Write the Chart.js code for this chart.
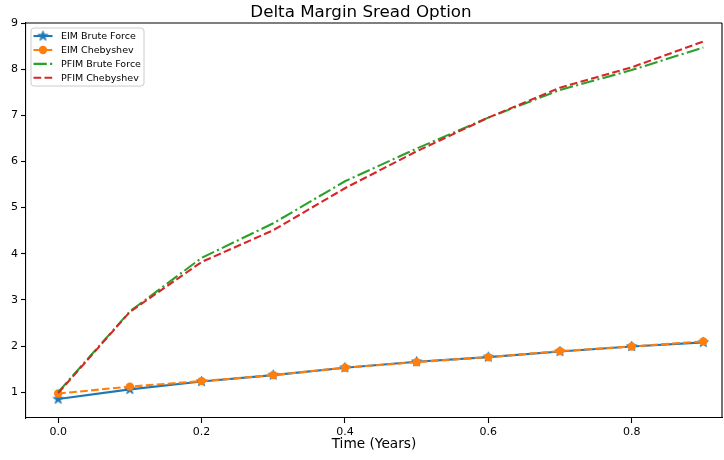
<!DOCTYPE html>
<html>
<head>
<meta charset="utf-8">
<script src="https://cdn.jsdelivr.net/npm/chart.js@4/dist/chart.umd.min.js"></script>
<style>
  html, body { margin: 0; padding: 0; background: #fff; }
  #wrap { width: 724px; height: 460px; position: relative; }
</style>
</head>
<body>
<div id="wrap"><canvas id="c" width="724" height="460"></canvas></div>
<script>
// ---- data ----
const timeYears = [0.0, 0.1, 0.2, 0.3, 0.4, 0.5, 0.6, 0.7, 0.8, 0.9];
const eimBruteForce = [0.85, 1.06, 1.23, 1.37, 1.53, 1.66, 1.76, 1.88, 1.99, 2.08];
const eimChebyshev  = [0.97, 1.12, 1.24, 1.37, 1.53, 1.65, 1.76, 1.89, 1.99, 2.10];
const pfimBruteForce = [1.00, 2.75, 3.91, 4.66, 5.57, 6.28, 6.95, 7.55, 7.98, 8.47];
const pfimChebyshev  = [0.98, 2.74, 3.82, 4.51, 5.42, 6.22, 6.95, 7.60, 8.04, 8.60];
const seriesLabels = ["EIM Brute Force", "EIM Chebyshev", "PFIM Brute Force", "PFIM Chebyshev"];
const xTickValues = [0.0, 0.2, 0.4, 0.6, 0.8];
const yTickValues = [1, 2, 3, 4, 5, 6, 7, 8, 9];
const chartTitle = "Delta Margin Sread Option";
const xAxisTitle = "Time (Years)";

const FONT = "'DejaVu Sans', sans-serif";
const C_BLUE = '#1f77b4', C_ORANGE = '#ff7f0e', C_GREEN = '#2ca02c', C_RED = '#d62728';

function makeStar(color, R) {
  const s = Math.ceil(R * 2 + 2);
  const cv = document.createElement('canvas');
  cv.width = s; cv.height = s;
  const g = cv.getContext('2d');
  const cx = s / 2, cy = s / 2, r = R * 0.381966;
  g.beginPath();
  for (let i = 0; i < 10; i++) {
    const rad = (i % 2 === 0) ? R : r;
    const a = -Math.PI / 2 + i * Math.PI / 5;
    const x = cx + rad * Math.cos(a), y = cy + rad * Math.sin(a);
    if (i === 0) g.moveTo(x, y); else g.lineTo(x, y);
  }
  g.closePath();
  g.fillStyle = color; g.fill();
  g.lineWidth = 1; g.strokeStyle = color; g.stroke();
  return cv;
}
const starImg = makeStar(C_BLUE, 5.2);

function toXY(ys) { return timeYears.map((x, i) => ({ x: x, y: ys[i] })); }

const LW = 2.1;
const datasets = [
  { label: seriesLabels[0], data: toXY(eimBruteForce), borderColor: C_BLUE, backgroundColor: C_BLUE,
    borderWidth: LW, pointStyle: starImg, pointRadius: 5, order: 4, _dash: [] },
  { label: seriesLabels[1], data: toXY(eimChebyshev), borderColor: C_ORANGE, backgroundColor: C_ORANGE,
    borderWidth: LW, borderDash: [7.7, 3.3], pointStyle: 'circle', pointRadius: 4.2, pointBorderWidth: 0, order: 3, _dash: [7.7, 3.3] },
  { label: seriesLabels[2], data: toXY(pfimBruteForce), borderColor: C_GREEN, backgroundColor: C_GREEN,
    borderWidth: LW, borderDash: [13.3, 3.3, 2.1, 3.3], pointRadius: 0, order: 2, _dash: [13.3, 3.3, 2.1, 3.3] },
  { label: seriesLabels[3], data: toXY(pfimChebyshev), borderColor: C_RED, backgroundColor: C_RED,
    borderWidth: LW, borderDash: [7.7, 3.3], pointRadius: 0, order: 1, _dash: [7.7, 3.3] }
];

const framePlugin = {
  id: 'frame',
  afterDraw(chart) {
    const ctx = chart.ctx, a = chart.chartArea;
    ctx.save();
    ctx.strokeStyle = '#000';
    ctx.lineWidth = 1.1;
    ctx.beginPath();
    ctx.moveTo(a.left, a.top); ctx.lineTo(a.right, a.top);
    ctx.moveTo(a.right, a.top); ctx.lineTo(a.right, a.bottom);
    ctx.stroke();
    ctx.restore();

    // legend inside the axes, upper left
    const x0 = a.left + 5, y0 = a.top + 5, w = 113, rowH = 13.9, h = 58;
    ctx.save();
    ctx.beginPath();
    const rr = 3;
    ctx.moveTo(x0 + rr, y0);
    ctx.arcTo(x0 + w, y0, x0 + w, y0 + h, rr);
    ctx.arcTo(x0 + w, y0 + h, x0, y0 + h, rr);
    ctx.arcTo(x0, y0 + h, x0, y0, rr);
    ctx.arcTo(x0, y0, x0 + w, y0, rr);
    ctx.closePath();
    ctx.fillStyle = 'rgba(255,255,255,0.8)';
    ctx.fill();
    ctx.strokeStyle = '#cccccc';
    ctx.lineWidth = 1;
    ctx.stroke();
    chart.data.datasets.forEach((ds, i) => {
      const cy = y0 + 8 + i * rowH;
      const hx0 = x0 + 2.5, hx1 = x0 + 21.5;
      ctx.save();
      ctx.strokeStyle = ds.borderColor;
      ctx.lineWidth = LW;
      ctx.setLineDash(ds._dash);
      ctx.beginPath(); ctx.moveTo(hx0, cy); ctx.lineTo(hx1, cy); ctx.stroke();
      ctx.restore();
      const mx = (hx0 + hx1) / 2;
      if (ds.pointStyle === starImg) {
        ctx.drawImage(starImg, mx - starImg.width / 2, cy - starImg.height / 2);
      } else if (ds.pointRadius > 0) {
        ctx.beginPath(); ctx.arc(mx, cy, 4.2, 0, Math.PI * 2);
        ctx.fillStyle = ds.backgroundColor; ctx.fill();
      }
      ctx.fillStyle = '#000';
      ctx.font = '9.5px ' + FONT;
      ctx.textBaseline = 'middle';
      ctx.textAlign = 'left';
      ctx.fillText(ds.label, x0 + 30, cy + 0.5);
    });
    ctx.restore();
  }
};

function zeroPad(s) {
  s.paddingLeft = 0; s.paddingRight = 0; s.paddingTop = 0; s.paddingBottom = 0;
}

new Chart(document.getElementById('c'), {
  type: 'line',
  data: { datasets: datasets },
  options: {
    responsive: false,
    animation: false,
    devicePixelRatio: 1,
    layout: { autoPadding: false, padding: { left: 0, right: 2, top: 0, bottom: 0 } },
    plugins: {
      legend: { display: false },
      tooltip: { enabled: false },
      title: {
        display: true, text: chartTitle, color: '#000',
        font: { family: FONT, size: 16.7, weight: 'normal', lineHeight: 1.2 },
        padding: { top: 3, bottom: 0 }
      }
    },
    scales: {
      x: {
        type: 'linear', min: -0.0449, max: 0.926,
        afterBuildTicks(s) { s.ticks = xTickValues.map(v => ({ value: v })); },
        afterFit(s) { s.height = 42; zeroPad(s); },
        ticks: { color: '#000', font: { family: FONT, size: 11 }, padding: 3,
          callback: v => Number(v).toFixed(1), maxRotation: 0, autoSkip: false },
        grid: { display: true, drawOnChartArea: false, drawTicks: true, tickLength: 5, tickWidth: 1.1, tickColor: '#000' },
        border: { display: true, color: '#000', width: 1.1 },
        title: { display: true, text: xAxisTitle, color: '#000',
          font: { family: FONT, size: 13.7 }, padding: { top: 0, bottom: 7 } }
      },
      y: {
        type: 'linear', min: 0.44, max: 9.0,
        afterBuildTicks(s) { s.ticks = yTickValues.map(v => ({ value: v })); },
        afterFit(s) { s.width = 26; zeroPad(s); },
        ticks: { color: '#000', font: { family: FONT, size: 11 }, padding: 3, autoSkip: false,
          callback: v => String(v) },
        grid: { display: true, drawOnChartArea: false, drawTicks: true, tickLength: 5, tickWidth: 1.1, tickColor: '#000' },
        border: { display: true, color: '#000', width: 1.1 }
      }
    }
  },
  plugins: [framePlugin]
});
</script>
</body>
</html>
